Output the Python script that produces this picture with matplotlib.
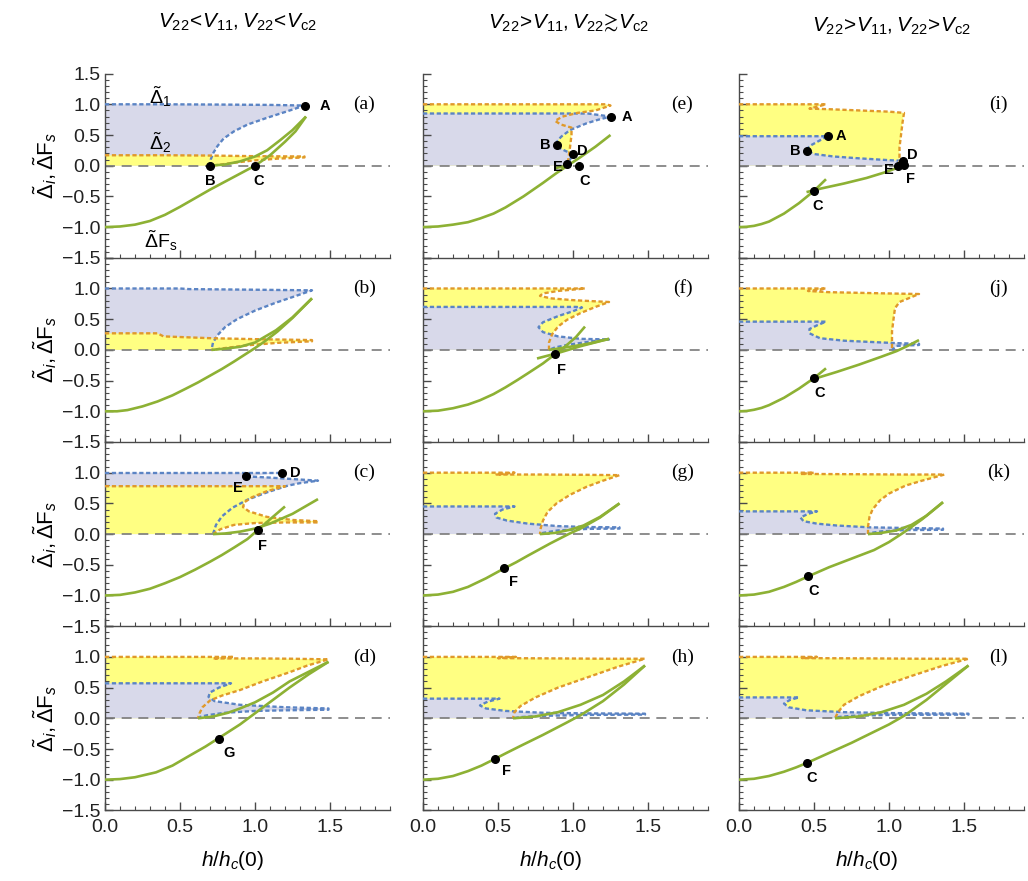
import matplotlib
matplotlib.use("Agg")
import matplotlib.pyplot as plt
from matplotlib.ticker import MultipleLocator, FixedLocator, FixedFormatter

plt.rcParams['font.family'] = ['Liberation Sans', 'DejaVu Sans']
plt.rcParams['mathtext.fontset'] = 'custom'
plt.rcParams['mathtext.rm'] = 'Liberation Sans'
plt.rcParams['mathtext.it'] = 'Liberation Sans:italic'
plt.rcParams['mathtext.bf'] = 'Liberation Sans:bold'

# ---------------- data ----------------
col_titles = [r'$V_{22}\!<\!V_{11}, V_{22}\!<\!V_{\rm c2}$',
              r'$V_{22}\!>\!V_{11}, V_{22}\!\gtrsim\!V_{\rm c2}$',
              r'$V_{22}\!>\!V_{11}, V_{22}\!>\!V_{\rm c2}$']
panel_names = ['a', 'b', 'c', 'd', 'e', 'f', 'g', 'h', 'i', 'j', 'k', 'l']

# panel (a)
a_blue = [(0.0, 1.0), (0.4, 1.0), (0.8, 0.995), (1.1, 0.99), (1.33, 0.98), (1.22, 0.89), (1.08, 0.78),
          (0.95, 0.67), (0.86, 0.56), (0.79, 0.44), (0.75, 0.32), (0.72, 0.2), (0.705, 0.1), (0.70, 0.0)]
a_orange = [(0.0, 0.17), (0.4, 0.17), (0.7, 0.165), (1.0, 0.155), (1.33, 0.15), (1.33, 0.135), (1.15, 0.115),
            (0.97, 0.08), (0.85, 0.045), (0.76, 0.015), (0.70, 0.0)]
a_green1 = [(0.0, -1.0), (0.1, -0.99), (0.2, -0.96), (0.3, -0.9), (0.4, -0.8), (0.5, -0.67), (0.6, -0.53),
            (0.7, -0.39), (0.8, -0.26), (0.9, -0.13), (1.0, 0.0), (1.1, 0.17), (1.2, 0.39), (1.27, 0.56),
            (1.34, 0.8)]
a_green2 = [(0.70, 0.0), (0.8, 0.02), (0.9, 0.07), (1.0, 0.15), (1.08, 0.25), (1.17, 0.42), (1.25, 0.58), (1.34, 0.8)]
a_points = [('A', 1.33, 0.98), ('B', 0.70, 0.0), ('C', 1.0, 0.0)]

# panel (b)
b_blue = [(0.0, 1.0), (0.5, 1.0), (0.56, 0.99), (1.0, 0.98), (1.38, 0.97), (1.25, 0.86), (1.14, 0.77),
          (1.0, 0.64), (0.88, 0.5), (0.8, 0.37), (0.75, 0.24), (0.72, 0.12), (0.71, 0.0)]
b_orange = [(0.0, 0.27), (0.35, 0.27), (0.39, 0.22), (0.71, 0.19), (1.0, 0.175), (1.38, 0.16), (1.38, 0.14),
            (1.15, 0.115), (0.95, 0.075), (0.8, 0.03), (0.71, 0.0)]
b_green1 = [(0.0, -1.0), (0.08, -1.0), (0.15, -0.98), (0.25, -0.92), (0.35, -0.84), (0.45, -0.74), (0.54, -0.63),
            (0.62, -0.53), (0.7, -0.42), (0.78, -0.31), (0.86, -0.19), (0.93, -0.08), (1.0, 0.03), (1.06, 0.13),
            (1.15, 0.3), (1.25, 0.52), (1.38, 0.84)]
b_green2 = [(0.71, 0.0), (0.8, 0.02), (0.9, 0.05), (1.0, 0.12), (1.14, 0.32), (1.25, 0.53), (1.38, 0.84)]
b_points = []

# panel (c)
c_blue = [(0.0, 1.0), (0.6, 1.0), (1.18, 1.0), None, (0.94, 0.94), (1.1, 0.92), (1.42, 0.87), (1.3, 0.83),
          (1.22, 0.79), (1.08, 0.68), (0.95, 0.56), (0.85, 0.43), (0.78, 0.29), (0.74, 0.15), (0.72, 0.0)]
c_orange = [(0.0, 0.78), (0.6, 0.78), (1.2, 0.78), (1.08, 0.7), (0.98, 0.6), (0.93, 0.52), (0.92, 0.44),
            (0.96, 0.37), (1.08, 0.28), (1.25, 0.23), (1.42, 0.21), (1.42, 0.19), (1.2, 0.19), (1.0, 0.18),
            (0.86, 0.15), (0.77, 0.08), (0.72, 0.0)]
c_green1 = [(0.0, -1.0), (0.1, -0.99), (0.2, -0.95), (0.3, -0.89), (0.4, -0.8), (0.5, -0.7), (0.6, -0.58),
            (0.7, -0.45), (0.78, -0.34), (0.86, -0.22), (0.95, -0.08), (1.02, 0.07), (1.1, 0.24), (1.2, 0.45)]
c_green2 = [(0.72, 0.0), (0.8, 0.01), (0.9, 0.04), (1.0, 0.09), (1.1, 0.17), (1.25, 0.33), (1.42, 0.57)]
c_points = [('D', 1.18, 1.0), ('E', 0.94, 0.94), ('F', 1.02, 0.06)]

# panel (d)
d_blue = [(0.0, 0.57), (0.5, 0.57), (0.84, 0.57), (0.76, 0.5), (0.70, 0.42), (0.69, 0.35), (0.73, 0.28),
          (0.9, 0.22), (1.2, 0.18), (1.49, 0.16), (1.49, 0.14), (1.2, 0.13), (1.0, 0.12), (0.8, 0.09),
          (0.68, 0.05), (0.63, 0.02), (0.62, 0.0)]
d_orange = [(0.0, 1.0), (0.5, 1.0), (0.86, 1.0), (0.72, 0.975), (1.0, 0.975), (1.25, 0.97), (1.49, 0.96),
            (1.35, 0.86), (1.23, 0.75), (1.05, 0.6), (0.9, 0.46), (0.78, 0.37), (0.70, 0.29), (0.65, 0.18),
            (0.63, 0.08), (0.62, 0.0)]
d_green1 = [(0.0, -1.0), (0.1, -0.99), (0.2, -0.96), (0.34, -0.88), (0.45, -0.77), (0.57, -0.6), (0.67, -0.46),
            (0.76, -0.32), (0.9, -0.1), (1.01, 0.1), (1.12, 0.3), (1.23, 0.5), (1.36, 0.72), (1.49, 0.92)]
d_green2 = [(0.62, 0.0), (0.72, 0.03), (0.82, 0.09), (0.9, 0.16), (1.0, 0.26), (1.12, 0.42), (1.23, 0.6),
            (1.36, 0.76), (1.49, 0.92)]
d_points = [('G', 0.76, -0.33)]

# panel (e)
e_blue = [(0.0, 0.85), (0.6, 0.85), (1.1, 0.85), (1.25, 0.80), (1.17, 0.75), (1.09, 0.69), (0.98, 0.58),
          (0.92, 0.47), (0.89, 0.38), (0.9, 0.3), (0.95, 0.24), (1.0, 0.19), (0.98, 0.1), (0.96, 0.0)]
e_orange = [(0.0, 1.0), (0.6, 1.0), (1.22, 1.0), (1.25, 0.98), (1.15, 0.9), (1.03, 0.86), (0.93, 0.8),
            (0.88, 0.73), (0.92, 0.67), (0.99, 0.62), (0.99, 0.5), (0.98, 0.3), (0.97, 0.12), (0.96, 0.0)]
e_green1 = [(0.0, -1.0), (0.1, -0.99), (0.2, -0.96), (0.3, -0.92), (0.38, -0.86), (0.47, -0.78), (0.55, -0.68),
            (0.67, -0.5), (0.8, -0.28), (0.89, -0.12), (0.97, 0.01), (1.05, 0.14), (1.15, 0.31), (1.25, 0.5)]
e_green2 = [(0.88, -0.04), (0.96, 0.0), (0.99, 0.03)]
e_points = [('A', 1.25, 0.80), ('B', 0.89, 0.34), ('D', 1.0, 0.19), ('E', 0.96, 0.02), ('C', 1.04, 0.0)]

# panel (f)
f_blue = [(0.0, 0.70), (0.6, 0.70), (1.02, 0.70), (1.06, 0.69), (1.0, 0.63), (0.9, 0.55), (0.8, 0.45),
          (0.77, 0.37), (0.8, 0.29), (0.9, 0.22), (1.05, 0.18), (1.24, 0.17), (1.1, 0.13), (0.96, 0.08),
          (0.88, 0.04), (0.84, 0.0)]
f_orange = [(0.0, 1.0), (0.6, 1.0), (1.08, 1.0), (0.9, 0.96), (0.8, 0.92), (0.78, 0.88), (0.85, 0.84),
            (1.0, 0.81), (1.24, 0.78), (1.15, 0.7), (1.05, 0.6), (0.96, 0.49), (0.9, 0.38), (0.86, 0.25),
            (0.84, 0.12), (0.84, 0.0)]
f_green1 = [(0.0, -1.0), (0.1, -0.99), (0.2, -0.95), (0.3, -0.89), (0.38, -0.82), (0.47, -0.72), (0.55, -0.61),
            (0.63, -0.49), (0.7, -0.38), (0.8, -0.22), (0.88, -0.07), (0.95, 0.06), (1.02, 0.21), (1.08, 0.38)]
f_green2 = [(0.84, 0.0), (0.95, 0.04), (1.1, 0.1), (1.24, 0.18)]
f_green3 = [(0.76, -0.14), (0.9, -0.05), (1.05, 0.06), (1.24, 0.18)]
f_points = [('F', 0.88, -0.07)]

# panel (g)
g_blue = [(0.0, 0.45), (0.4, 0.45), (0.61, 0.45), (0.53, 0.4), (0.48, 0.33), (0.49, 0.27), (0.56, 0.22),
          (0.7, 0.17), (0.9, 0.13), (1.1, 0.115), (1.31, 0.11), (1.31, 0.09), (1.1, 0.085), (0.9, 0.06),
          (0.8, 0.02), (0.78, 0.0)]
g_orange = [(0.0, 1.0), (0.4, 1.0), (0.61, 1.0), (0.49, 0.97), (0.8, 0.97), (1.1, 0.965), (1.31, 0.96),
            (1.2, 0.87), (1.09, 0.77), (0.98, 0.64), (0.89, 0.5), (0.83, 0.36), (0.8, 0.22), (0.785, 0.1),
            (0.78, 0.0)]
g_green1 = [(0.0, -1.0), (0.1, -0.985), (0.2, -0.94), (0.3, -0.86), (0.42, -0.72), (0.54, -0.56), (0.62, -0.46),
            (0.7, -0.35), (0.85, -0.15), (0.97, 0.0), (1.05, 0.09), (1.18, 0.27), (1.31, 0.5)]
g_green2 = [(0.78, 0.0), (0.88, 0.02), (0.98, 0.07), (1.07, 0.14), (1.18, 0.28), (1.31, 0.5)]
g_points = [('F', 0.54, -0.55)]

# panel (h)
h_blue = [(0.0, 0.32), (0.3, 0.32), (0.51, 0.32), (0.43, 0.27), (0.38, 0.21), (0.42, 0.16), (0.55, 0.12),
          (0.8, 0.09), (1.1, 0.08), (1.48, 0.075), (1.48, 0.06), (1.1, 0.055), (0.8, 0.04), (0.65, 0.02),
          (0.6, 0.0)]
h_orange = [(0.0, 1.0), (0.4, 1.0), (0.62, 1.0), (0.5, 0.98), (0.9, 0.975), (1.2, 0.97), (1.48, 0.97),
            (1.3, 0.84), (1.1, 0.67), (0.9, 0.5), (0.75, 0.34), (0.65, 0.2), (0.61, 0.1), (0.6, 0.0)]
h_green1 = [(0.0, -1.0), (0.1, -0.985), (0.2, -0.94), (0.3, -0.86), (0.39, -0.77), (0.48, -0.66), (0.56, -0.56),
            (0.65, -0.45), (0.8, -0.27), (0.95, -0.08), (1.05, 0.05), (1.2, 0.28), (1.34, 0.55), (1.48, 0.86)]
h_green2 = [(0.6, 0.0), (0.75, 0.03), (0.9, 0.1), (1.05, 0.22), (1.2, 0.38), (1.34, 0.6), (1.48, 0.86)]
h_points = [('F', 0.48, -0.66)]

# panel (i)
i_blue = [(0.0, 0.48), (0.3, 0.48), (0.59, 0.48), (0.53, 0.4), (0.47, 0.32), (0.45, 0.25), (0.5, 0.19),
          (0.63, 0.15), (0.8, 0.12), (1.0, 0.09), (1.09, 0.08), (1.07, 0.0)]
i_orange = [(0.0, 1.0), (0.4, 1.0), (0.58, 1.0), (0.52, 0.96), (0.47, 0.93), (0.6, 0.92), (0.8, 0.9),
            (1.0, 0.88), (1.1, 0.86), (1.09, 0.7), (1.08, 0.5), (1.07, 0.3), (1.07, 0.1), (1.07, 0.0)]
i_green1 = [(0.0, -1.0), (0.05, -0.995), (0.1, -0.98), (0.15, -0.95), (0.2, -0.91), (0.3, -0.78), (0.4, -0.61),
            (0.5, -0.41), (0.58, -0.22)]
i_green2 = [(0.45, -0.43), (0.55, -0.37), (0.7, -0.29), (0.85, -0.2), (0.97, -0.11), (1.05, -0.04), (1.08, 0.0)]
i_points = [('A', 0.59, 0.48), ('B', 0.45, 0.24), ('C', 0.5, -0.41), ('D', 1.09, 0.08), ('E', 1.06, 0.0),
            ('F', 1.1, 0.01)]

# panel (j)
j_blue = [(0.0, 0.46), (0.3, 0.46), (0.58, 0.46), (0.52, 0.4), (0.47, 0.34), (0.47, 0.27), (0.54, 0.19),
          (0.7, 0.15), (0.87, 0.13), (1.05, 0.11), (1.2, 0.1), (1.2, 0.08), (1.05, 0.065), (1.02, 0.0)]
j_orange = [(0.0, 1.0), (0.4, 1.0), (0.58, 1.0), (0.5, 0.97), (0.46, 0.96), (0.6, 0.94), (0.98, 0.92),
            (1.2, 0.91), (1.12, 0.83), (1.07, 0.78), (1.04, 0.68), (1.03, 0.5), (1.02, 0.3), (1.02, 0.0)]
j_green1 = [(0.0, -1.0), (0.05, -0.995), (0.1, -0.975), (0.15, -0.945), (0.2, -0.9), (0.3, -0.78), (0.4, -0.63),
            (0.5, -0.46), (0.58, -0.3)]
j_green2 = [(0.53, -0.45), (0.65, -0.36), (0.8, -0.24), (0.95, -0.11), (1.05, -0.02), (1.12, 0.06), (1.2, 0.16)]
j_points = [('C', 0.5, -0.46)]

# panel (k)
k_blue = [(0.0, 0.37), (0.3, 0.37), (0.52, 0.37), (0.46, 0.33), (0.41, 0.27), (0.43, 0.21), (0.52, 0.17),
          (0.65, 0.14), (0.87, 0.11), (1.1, 0.1), (1.36, 0.09), (1.36, 0.07), (1.1, 0.065), (0.95, 0.045),
          (0.88, 0.02), (0.86, 0.0)]
k_orange = [(0.0, 1.0), (0.3, 1.0), (0.5, 1.0), (0.41, 0.98), (0.8, 0.975), (1.1, 0.97), (1.37, 0.97),
            (1.22, 0.87), (1.11, 0.79), (1.0, 0.66), (0.94, 0.55), (0.89, 0.4), (0.87, 0.28), (0.86, 0.12),
            (0.86, 0.0)]
k_green1 = [(0.0, -1.0), (0.1, -0.985), (0.2, -0.94), (0.3, -0.86), (0.38, -0.78), (0.46, -0.69), (0.6, -0.54),
            (0.75, -0.4), (0.9, -0.26), (1.0, -0.13), (1.1, 0.03), (1.22, 0.24), (1.36, 0.52)]
k_green2 = [(0.86, 0.0), (0.95, 0.02), (1.05, 0.06), (1.15, 0.15), (1.25, 0.3), (1.36, 0.52)]
k_points = [('C', 0.46, -0.68)]

# panel (l)
l_blue = [(0.0, 0.34), (0.2, 0.34), (0.4, 0.34), (0.34, 0.3), (0.3, 0.24), (0.33, 0.18), (0.45, 0.13),
          (0.7, 0.1), (1.0, 0.085), (1.53, 0.075), (1.53, 0.06), (1.0, 0.055), (0.75, 0.04), (0.66, 0.02),
          (0.64, 0.0)]
l_orange = [(0.0, 1.0), (0.3, 1.0), (0.52, 1.0), (0.42, 0.98), (0.9, 0.975), (1.2, 0.97), (1.53, 0.97),
            (1.35, 0.85), (1.15, 0.69), (0.95, 0.52), (0.8, 0.36), (0.7, 0.22), (0.66, 0.1), (0.64, 0.0)]
l_green1 = [(0.0, -1.0), (0.1, -0.985), (0.2, -0.94), (0.3, -0.87), (0.38, -0.8), (0.45, -0.73), (0.55, -0.62),
            (0.65, -0.51), (0.75, -0.4), (0.85, -0.28), (1.0, -0.1), (1.1, 0.04), (1.25, 0.3), (1.38, 0.56),
            (1.53, 0.86)]
l_green2 = [(0.64, 0.0), (0.8, 0.03), (0.95, 0.1), (1.1, 0.22), (1.25, 0.4), (1.38, 0.6), (1.53, 0.86)]
l_points = [('C', 0.45, -0.72)]

# ---------------- styling ----------------
BLUE = '#5b84c4'
ORANGE = '#e0992a'
LAV = '#d8d9ea'
YEL = '#ffff82'
GREEN = '#8db134'
AXC = '#4a4a4a'

panels = {
    'a': (a_blue, a_orange, [a_green1, a_green2], a_points, 'yellow'),
    'b': (b_blue, b_orange, [b_green1, b_green2], b_points, 'yellow'),
    'c': (c_blue, c_orange, [c_green1, c_green2], c_points, 'yellow'),
    'd': (d_blue, d_orange, [d_green1, d_green2], d_points, 'lav'),
    'e': (e_blue, e_orange, [e_green1, e_green2], e_points, 'lav'),
    'f': (f_blue, f_orange, [f_green1, f_green2, f_green3], f_points, 'lav'),
    'g': (g_blue, g_orange, [g_green1, g_green2], g_points, 'lav'),
    'h': (h_blue, h_orange, [h_green1, h_green2], h_points, 'lav'),
    'i': (i_blue, i_orange, [i_green1, i_green2], i_points, 'lav'),
    'j': (j_blue, j_orange, [j_green1, j_green2], j_points, 'lav'),
    'k': (k_blue, k_orange, [k_green1, k_green2], k_points, 'lav'),
    'l': (l_blue, l_orange, [l_green1, l_green2], l_points, 'lav'),
}

label_off = {
    ('a', 'A'): (11, 0, 'left', 'center'), ('a', 'B'): (0, -6, 'center', 'top'), ('a', 'C'): (3, -6, 'center', 'top'),
    ('c', 'D'): (6, 0, 'left', 'center'), ('c', 'E'): (-2, -3, 'right', 'top'), ('c', 'F'): (3, -6, 'center', 'top'),
    ('d', 'G'): (7, -5, 'center', 'top'),
    ('e', 'A'): (8, 0, 'left', 'center'), ('e', 'B'): (-4, 0, 'right', 'center'), ('e', 'D'): (3, 2, 'left', 'center'),
    ('e', 'E'): (-3, -2, 'right', 'center'), ('e', 'C'): (4, -6, 'center', 'top'),
    ('f', 'F'): (5, -6, 'center', 'top'),
    ('g', 'F'): (7, -5, 'center', 'top'),
    ('h', 'F'): (8, -4, 'center', 'top'),
    ('i', 'A'): (6, 0, 'left', 'center'), ('i', 'B'): (-4, 0, 'right', 'center'), ('i', 'C'): (3, -6, 'center', 'top'),
    ('i', 'D'): (3, 4, 'left', 'center'), ('i', 'E'): (-3, -3, 'right', 'center'), ('i', 'F'): (5, -5, 'center', 'top'),
    ('j', 'C'): (4, -6, 'center', 'top'), ('k', 'C'): (4, -6, 'center', 'top'), ('l', 'C'): (4, -6, 'center', 'top'),
}

W, H = 1028, 881
XMAX = 1.9
col_left_px = [105, 423, 739]
px_per_x = 150.0
row_top_px = 73.6
row_h_px = 184.2

fig = plt.figure(figsize=(W / 100, H / 100), dpi=100)


def segments(pts):
    segs = [[]]
    for p in pts:
        if p is None:
            segs.append([])
        else:
            segs[-1].append(p)
    return [s for s in segs if s]


def polygon(pts):
    P = [p for p in pts if p is not None]
    xs = [p[0] for p in P] + [P[-1][0], P[0][0]]
    ys = [p[1] for p in P] + [0.0, 0.0]
    return xs, ys


for idx, name in enumerate(panel_names):
    col, row = divmod(idx, 4)
    left = col_left_px[col] / W
    bottom = (H - (row_top_px + (row + 1) * row_h_px)) / H
    ax = fig.add_axes([left, bottom, XMAX * px_per_x / W, row_h_px / H])
    ax.set_xlim(0, XMAX)
    ax.set_ylim(-1.5, 1.5)
    ax.patch.set_alpha(0)
    for s in ('top', 'right'):
        ax.spines[s].set_visible(False)
    for s in ('left', 'bottom'):
        ax.spines[s].set_color(AXC)
        ax.spines[s].set_linewidth(1.0)

    blue, orange, greens, pts, ontop = panels[name]
    bx, by = polygon(blue)
    ox, oy = polygon(orange)
    if ontop == 'yellow':
        ax.fill(bx, by, color=LAV, lw=0, zorder=1)
        ax.fill(ox, oy, color=YEL, lw=0, zorder=1.1)
    else:
        ax.fill(ox, oy, color=YEL, lw=0, zorder=1)
        ax.fill(bx, by, color=LAV, lw=0, zorder=1.1)

    ax.axhline(0, color='#7a7a7a', lw=1.2, ls=(0, (6, 4)), zorder=2)

    for seg in segments(blue):
        ax.plot([p[0] for p in seg], [p[1] for p in seg], color=BLUE, lw=1.7,
                ls=(0, (1.8, 1.1)), zorder=3, solid_joinstyle='round')
    for seg in segments(orange):
        ax.plot([p[0] for p in seg], [p[1] for p in seg], color=ORANGE, lw=1.7,
                ls=(0, (1.8, 1.1)), zorder=3.1)
    for g in greens:
        ax.plot([p[0] for p in g], [p[1] for p in g], color=GREEN, lw=1.9, zorder=4,
                solid_capstyle='butt', solid_joinstyle='round')

    for lab, x, y in pts:
        ax.plot([x], [y], 'o', color='black', ms=5.5, zorder=6)
        dx, dy, ha, va = label_off.get((name, lab), (5, -5, 'left', 'top'))
        ax.annotate(lab, (x, y), xytext=(dx, dy), textcoords='offset points', ha=ha, va=va,
                    fontsize=10.5, fontweight='bold', zorder=7)

    ax.text(1.73, 1.0, '(%s)' % name, ha='center', va='center', fontsize=14,
            family=['Liberation Serif', 'DejaVu Serif'])

    # ticks
    ax.xaxis.set_major_locator(FixedLocator([0, 0.5, 1.0, 1.5]))
    ax.xaxis.set_minor_locator(MultipleLocator(0.1))
    ax.yaxis.set_major_locator(FixedLocator([-1.5, -1.0, -0.5, 0.0, 0.5, 1.0, 1.5]))
    ax.yaxis.set_minor_locator(MultipleLocator(0.1))
    ax.tick_params(which='both', direction='in', color=AXC, labelsize=14, labelcolor='#222222')
    ax.tick_params(which='major', length=6, width=1.0)
    ax.tick_params(which='minor', length=3, width=0.8)
    if col == 0:
        ylabs = ['\u22121.5', '\u22121.0', '\u22120.5', '0.0', '0.5', '1.0', '1.5' if row == 0 else '']
        ax.yaxis.set_major_formatter(FixedFormatter(ylabs))
    else:
        ax.tick_params(axis='y', labelleft=False)
    if row == 3:
        ax.xaxis.set_major_formatter(FixedFormatter(['0.0', '0.5', '1.0', '1.5']))
        ax.tick_params(axis='x', pad=6)
    else:
        ax.tick_params(axis='x', labelbottom=False)

    if col == 0:
        yc = row_top_px + (row + 0.5) * row_h_px
        fig.text(45 / W, 1 - yc / H, r'$\tilde{\Delta}_{i},\tilde{\Delta}\mathrm{F}_{s}$', rotation=90,
                 ha='center', va='center', fontsize=16)
    if name == 'a':
        ax.text(0.37, 1.12, r'$\tilde{\Delta}_1$', ha='center', va='center', fontsize=14)
        ax.text(0.37, 0.37, r'$\tilde{\Delta}_2$', ha='center', va='center', fontsize=14)
        ax.text(0.37, -1.22, r'$\tilde{\Delta}\mathrm{F}_\mathrm{s}$', ha='center', va='center', fontsize=14)

# column titles and x labels
title_x_px = [237, 568, 891]
title_y_px = [22, 22, 26]
for c in range(3):
    fig.text(title_x_px[c] / W, 1 - title_y_px[c] / H, col_titles[c], ha='center', va='center', fontsize=15)
    fig.text((col_left_px[c] + 0.85 * px_per_x) / W, 1 - 860 / H, r'$h/h_c(0)$', ha='center', va='center',
             fontsize=15)

fig.savefig('out.png', dpi=100)
